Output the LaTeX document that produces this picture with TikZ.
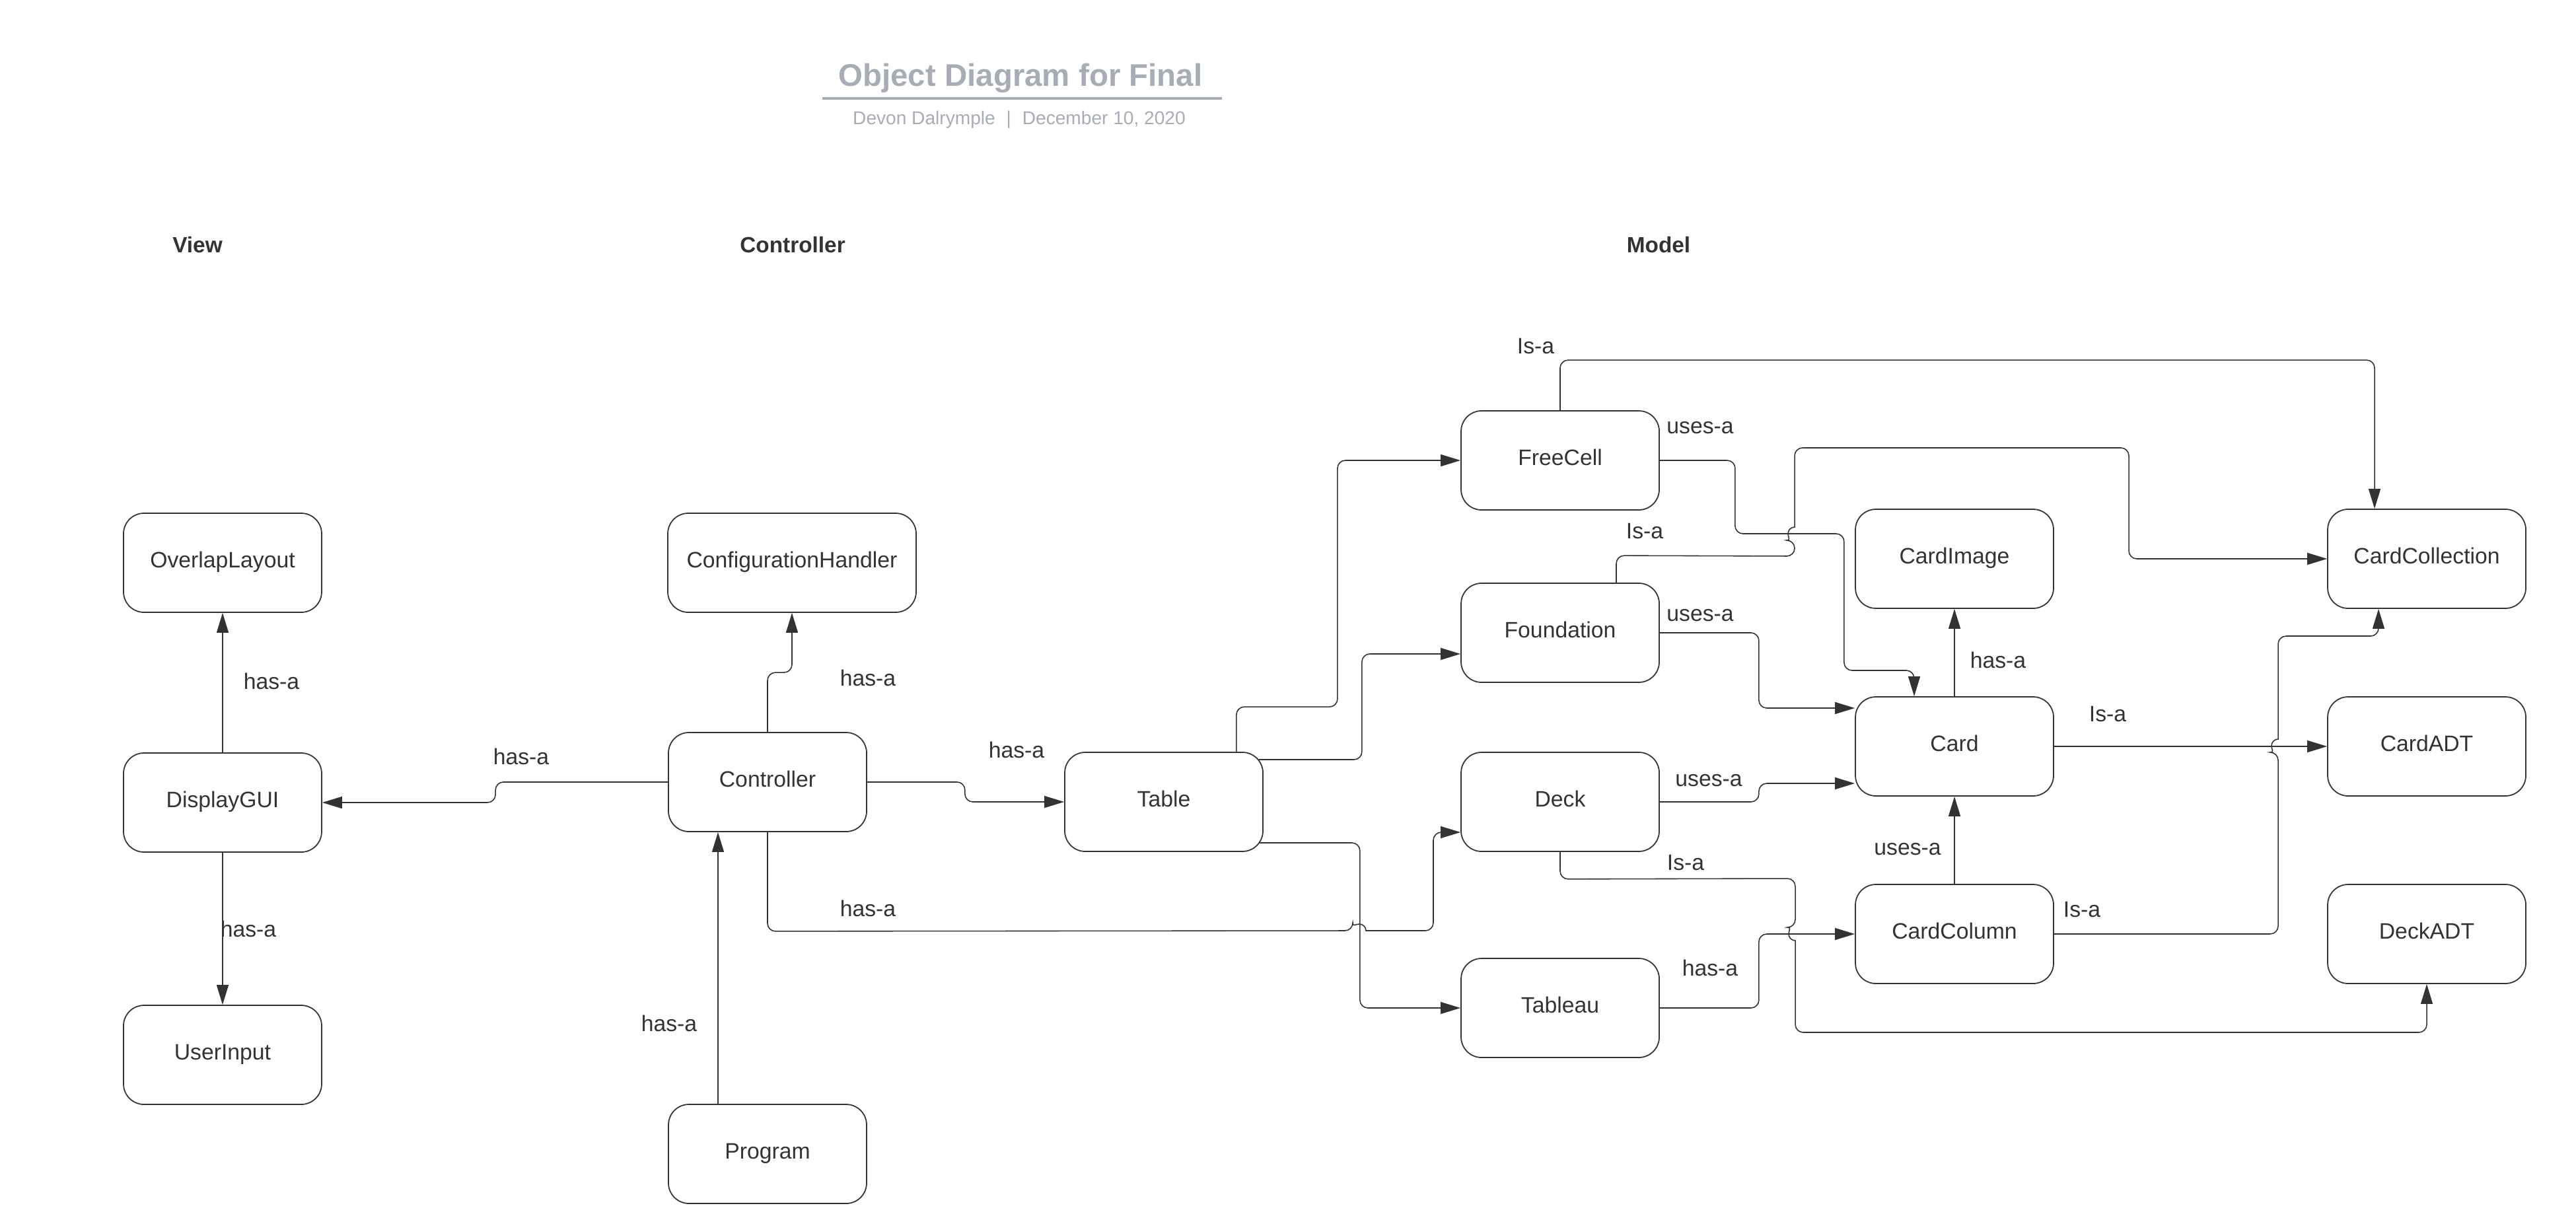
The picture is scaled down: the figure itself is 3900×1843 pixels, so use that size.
\documentclass[tikz,border=0pt]{standalone}
\usepackage{fontspec}
\setmainfont{Liberation Sans}
\usepackage{tikz}
\usetikzlibrary{arrows.meta}
\definecolor{ink}{HTML}{333333}
\definecolor{titlegray}{HTML}{A7ACB5}
\tikzset{
    objbox/.style={rectangle, draw=ink, line width=0.5pt, rounded corners=3.1mm, minimum width=30mm, minimum height=15mm, inner sep=0pt, text height=0.75em, text depth=0.3em, text=ink, font=\fontsize{9.6}{11}\selectfont},
    rel/.style={draw=ink, line width=0.45pt, rounded corners=1.2mm, -{Triangle[length=3mm, width=1.8mm]}},% connectors with filled heads
    rellabel/.style={text=ink, inner sep=0pt, font=\fontsize{9.6}{11}\selectfont},
    layer/.style={text=ink, inner sep=0pt, font=\bfseries\fontsize{9.5}{11}\selectfont},
}

\begin{document}
\begin{tikzpicture}[x=0.1mm, y=-0.1mm]
    \useasboundingbox (0,0) rectangle (3900,1843);

    \node[text=titlegray, font=\bfseries\fontsize{13.5}{16}\selectfont] (title) at (1545,118) {Object Diagram for Final};
    \draw[titlegray, line width=0.9pt] (1245,149) -- (1850,149);
    \node[text=titlegray, font=\fontsize{8}{9}\selectfont] (byline) at (1543,181) {Devon Dalrymple\hspace{0.6em}|\hspace{0.6em}December 10, 2020};

    \node[layer] (viewhead) at (299,371) {View};
    \node[layer] (ctrlhead) at (1200,371) {Controller};
    \node[layer] (modelhead) at (2511,371) {Model};

    \node[objbox] (overlap) at (337,852) {OverlapLayout};
    \node[objbox] (display) at (337,1215) {DisplayGUI};
    \node[objbox] (userinput) at (337,1597) {UserInput};
    \node[objbox, minimum width=37.6mm] (config) at (1199,852) {ConfigurationHandler};
    \node[objbox] (ctrl) at (1162,1184) {Controller};
    \node[objbox] (program) at (1162,1747) {Program};
    \node[objbox] (table) at (1762,1214) {Table};
    \node[objbox] (freecell) at (2362,697) {FreeCell};
    \node[objbox] (foundation) at (2362,958) {Foundation};
    \node[objbox] (deck) at (2362,1214) {Deck};
    \node[objbox] (tableau) at (2362,1526) {Tableau};
    \node[objbox] (cardimage) at (2959,846) {CardImage};
    \node[objbox] (card) at (2959,1130) {Card};
    \node[objbox] (cardcol) at (2959,1414) {CardColumn};
    \node[objbox] (cardcoll) at (3674,846) {CardCollection};
    \node[objbox] (cardadt) at (3674,1130) {CardADT};
    \node[objbox] (deckadt) at (3674,1414) {DeckADT};

    % view and controller
    \draw[rel] (display) -- (overlap);
    \draw[rel] (display) -- (userinput);
    \draw[rel] (ctrl.west) -- ++(-261,0) |- (display);
    \draw[rel] (ctrl.north) -- ++(0,-90) -| (config);
    \draw[rel] (ctrl.east) -- ++(148,0) |- (table);
    \draw[rel] ([xshift=-7.5mm]program.north) -- ([xshift=-7.5mm]ctrl.south);
    \draw[rel] (ctrl.south) -- ++(0,150) -- (2048,1409) [sharp corners] arc[start angle=180, end angle=0, radius=1mm] [rounded corners=1.2mm] -- (2170,1409) |- ([yshift=-4.6mm]deck.west);

    % table
    \draw[rel] ([xshift=-4.1mm]table.north east) -- ++(0,-68) -- ++(153,0) |- (freecell);
    \draw[rel] ([xshift=-0.7mm, yshift=6.4mm]table.east) -- ++(156,0) |- ([yshift=-3.2mm]foundation.west);
    \draw[rel] ([xshift=-0.7mm, yshift=-6.2mm]table.east) -- ++(153,0) |- (tableau);

    % model
    \draw[rel] (freecell.north) -- ++(0,-76) -| ([xshift=-7.9mm]cardcoll.north);
    \draw[rel] (freecell.east) -- ++(114,0) -- ++(0,111) -- ++(165,0) -- ++(0,207) -| ([xshift=-6.1mm]card.north);
    \draw[rel] ([xshift=8.5mm]foundation.north) -- ++(0,-41) -- (2717,842) -- (2717,818) [sharp corners] arc[start angle=270, end angle=90, radius=1mm] [rounded corners=1.2mm] -- (2717,678) -- (3223,678) |- (cardcoll);
    \draw[rel] (foundation.east) -- ++(150,0) |- ([yshift=5.8mm]card.west);
    \draw[rel] (deck.east) -- ++(150,0) |- ([yshift=-5.6mm]card.west);
    \draw[rel] (deck.south) -- ++(0,41) -- (2718,1330) -- (2718,1404) [sharp corners] arc[start angle=90, end angle=270, radius=1mm] [rounded corners=1.2mm] -- (2718,1563) -| (deckadt.south);
    \draw[rel] (tableau.east) -- ++(150,0) |- (cardcol);
    \draw[rel] (card) -- (cardimage);
    \draw[rel] (cardcol) -- (card);
    \draw[rel] (card) -- (cardadt);
    \draw[rel] (cardcol.east) -- (3449,1414) -- (3449,1139) [sharp corners] arc[start angle=270, end angle=90, radius=1mm] [rounded corners=1.2mm] -- (3449,963) -| ([xshift=-7.3mm]cardcoll.south);

    \node[rellabel] (lblA) at (411,1031) {has-a};
    \node[rellabel] (lblB) at (376,1406) {has-a};
    \node[rellabel] (lblC) at (789,1145) {has-a};
    \node[rellabel] (lblD) at (1314,1026) {has-a};
    \node[rellabel] (lblE) at (1539,1135) {has-a};
    \node[rellabel] (lblF) at (1314,1375) {has-a};
    \node[rellabel] (lblG) at (1013,1549) {has-a};
    \node[rellabel] (lblH) at (2325,524) {Is-a};
    \node[rellabel] (lblI) at (2574,648) {uses-a};
    \node[rellabel] (lblJ) at (2490,804) {Is-a};
    \node[rellabel] (lblK) at (2574,932) {uses-a};
    \node[rellabel] (lblL) at (2587,1182) {uses-a};
    \node[rellabel] (lblM) at (2552,1306) {Is-a};
    \node[rellabel] (lblN) at (2589,1465) {has-a};
    \node[rellabel] (lblO) at (3025,999) {has-a};
    \node[rellabel] (lblP) at (2888,1286) {uses-a};
    \node[rellabel] (lblQ) at (3191,1081) {Is-a};
    \node[rellabel] (lblR) at (3152,1377) {Is-a};
\end{tikzpicture}
\end{document}
